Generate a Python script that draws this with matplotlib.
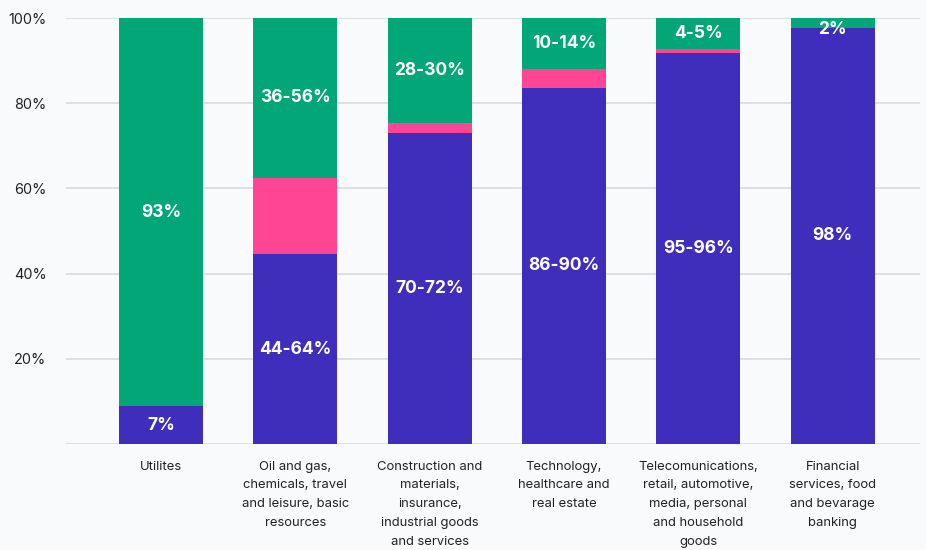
import numpy as np
import matplotlib.pyplot as plt

plt.rcParams['font.family'] = ['Inter', 'DejaVu Sans']

categories = ["Utilites",
              "Oil and gas,\nchemicals, travel\nand leisure, basic\nresources",
              "Construction and\nmaterials,\ninsurance,\nindustrial goods\nand services",
              "Technology,\nhealthcare and\nreal estate",
              "Telecomunications,\nretail, automotive,\nmedia, personal\nand household\ngoods",
              "Financial\nservices, food\nand bevarage\nbanking"]
purple = [8.9, 44.6, 73.1, 83.6, 91.9, 97.7]
pink = [0.0, 17.9, 2.3, 4.5, 0.9, 0.0]
green = [100 - a - b for a, b in zip(purple, pink)]
purple_labels = ["7%", "44-64%", "70-72%", "86-90%", "95-96%", "98%"]
green_labels = ["93%", "36-56%", "28-30%", "10-14%", "4-5%", "2%"]

bg = '#F9FAFC'
c_purple = '#3F2DBC'
c_pink = '#FF4593'
c_green = '#03A676'

fig = plt.figure(figsize=(9.26, 5.5), dpi=100, facecolor=bg)
ax = fig.add_axes([66 / 926, 106 / 550, 854 / 926, 426 / 550], facecolor=bg)

x = np.arange(len(categories))
w = 0.625
ax.bar(x, purple, w, color=c_purple, zorder=3)
ax.bar(x, pink, w, bottom=purple, color=c_pink, zorder=3)
bottom2 = [a + b for a, b in zip(purple, pink)]
ax.bar(x, green, w, bottom=bottom2, color=c_green, zorder=3)

for i in x:
    ax.text(i, purple[i] / 2, purple_labels[i], ha='center', va='center',
            color='white', fontsize=12.5, fontweight='bold', zorder=4)
    gy = bottom2[i] + green[i] / 2
    if green[i] < 4:
        gy = 97.4
    ax.text(i, gy, green_labels[i], ha='center', va='center',
            color='white', fontsize=12.5, fontweight='bold', zorder=4)

ax.set_xlim(-0.707, 5.65)
ax.set_ylim(0, 100)
ax.set_yticks([0, 20, 40, 60, 80, 100])
ax.set_yticklabels(['', '20%', '40%', '60%', '80%', '100%'], fontsize=10.4, color='#222222')
ax.yaxis.grid(True, color='#D9DADE', linewidth=1.2, zorder=0)
ax.set_xticks(x)
ax.set_xticklabels(categories, fontsize=9.4, color='#222222', linespacing=1.75, va='top')
ax.tick_params(axis='both', length=0)
ax.tick_params(axis='x', pad=12)
ax.tick_params(axis='y', pad=14)
for s in ax.spines.values():
    s.set_visible(False)

fig.savefig('out.png', dpi=100, facecolor=bg)
